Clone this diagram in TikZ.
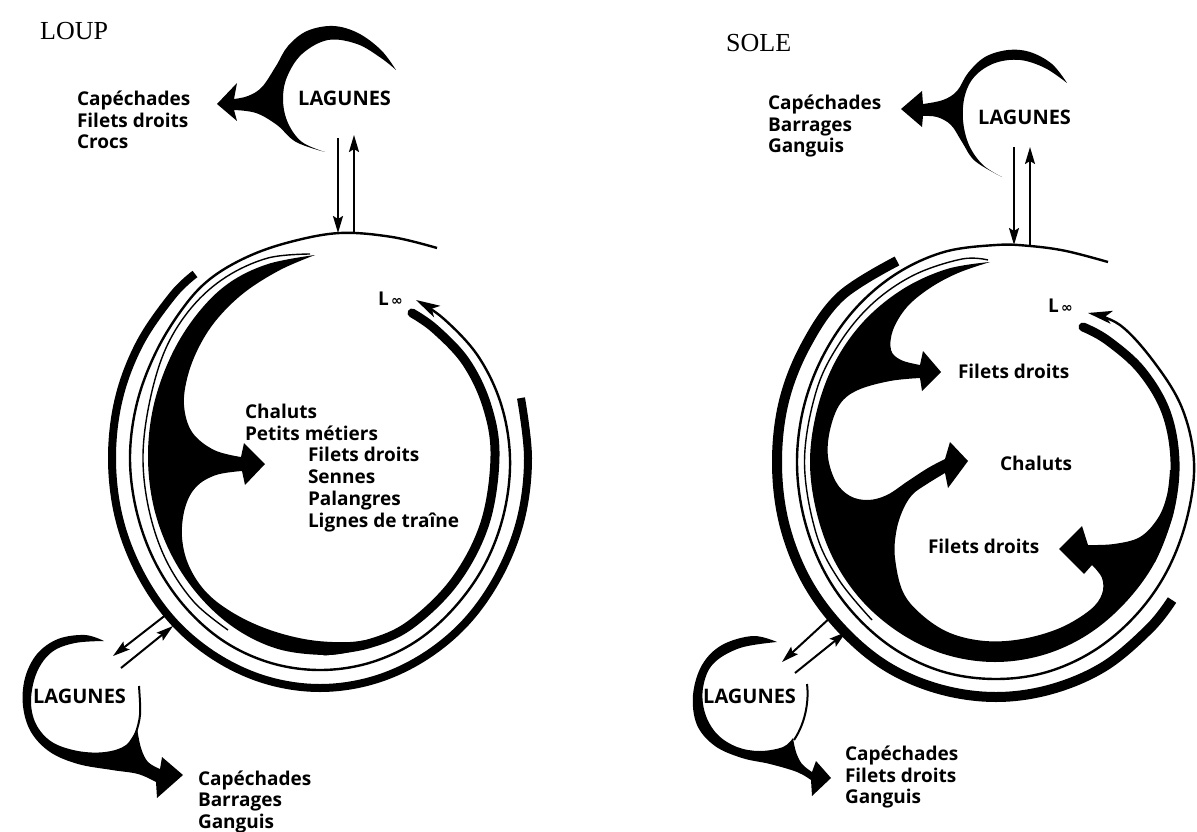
\documentclass[tikz,border=0pt]{standalone}
\usepackage{fontspec}
\setmainfont{Liberation Serif}
\newfontfamily\labfont{Open Sans}
\newfontfamily\symfont{DejaVu Sans}
\usetikzlibrary{arrows.meta}
\tikzset{
  lab/.style={font=\labfont\bfseries\fontsize{19}{23}\selectfont, anchor=base west, inner sep=0pt, outer sep=0pt},
  lagtext/.style={font=\labfont\bfseries\fontsize{20}{24}\selectfont, anchor=base west, inner sep=0pt},
  ttl/.style={font=\fontsize{26}{30}\selectfont, anchor=base west, inner sep=0pt},
  flow/.style={line width=2pt, -{Stealth[length=17pt,width=10pt,inset=3pt]}},
  growth/.style={line width=2.4pt, -{Stealth[length=24pt,width=13pt,inset=6pt]}},
  ringL/.style={line width=8pt, line cap=butt},
  ringR/.style={line width=10pt, line cap=butt},
  band/.style={line width=9pt, line cap=round},
  hairline/.style={line width=1.4pt},
  blob/.style={fill=black},
  paren/.style={line width=2pt},
  sm/.style={smooth, tension=0.6}
}
\begin{document}
\begin{tikzpicture}[x=1pt,y=-1pt]
\useasboundingbox (0,0) rectangle (1197,832);
\fill[white] (0,0) rectangle (1197,832);

% ================= LEFT : LOUP =================
\node[ttl] (loup) at (40,40) {LOUP};

% top lagune
\fill[blob] plot[sm] coordinates {(396,70) (381,50) (358,33) (333,26) (307,31) (288,46) (276,66) (262,87) (248,96) (234,99)}
  -- (237,83) -- (217,104) -- (237,121) -- (234,110)
  -- plot[sm] coordinates {(234,110) (256,113) (277,125) (296,142) (325,152)}
  -- plot[sm] coordinates {(325,152) (302,142) (288,123) (283,100) (287,77) (302,54) (328,40) (357,44) (381,58) (396,70)} -- cycle;
\node[lagtext] (lagLT) at (298,106) {LAGUNES};
\node[lab] (lt1) at (77,106) {Capéchades};
\node[lab] (lt2) at (77,128) {Filets droits};
\node[lab] (lt3) at (77,149) {Crocs};

% outer ring R1
\draw[ringL] plot[sm] coordinates {(195,274) (173,295) (140,343) (119,398) (112,458) (119,518) (140,573) (173,621) (216,657) (266,680) (320,688) (374,680) (424,657) (467,621) (500,573) (521,518) (528,458) (521,398)};
% growth ring R2
\draw[growth] plot[sm] coordinates {(437,248) (392,237) (340,233) (290,242) (247,257) (210,279) (183,308) (156,352) (137,403) (130,458) (137,513) (156,564) (186,608) (225,642) (271,663) (320,670) (369,663) (415,642) (454,608) (485,564) (504,513) (510,458) (501,404) (478,356) (444,319) (416,300)};
% exploitation band R3
\draw[band] plot[sm] coordinates {(412,313) (435,329) (466,362) (487,406) (495,456) (485,523) (455,581) (410,625) (368,644) (324,651)};
\fill[blob] plot[sm] coordinates {(380,643) (354,651) (324,655) (278,649) (236,629) (200,597) (172,556) (154,508) (148,456) (154,404) (172,354) (198,313) (229,283) (268,264) (315,255)}
  -- plot[sm] coordinates {(315,255) (280,270) (245,292) (218,318) (200,345) (188,375) (184,405) (192,432) (214,450) (241,457)}
  -- (244,443) -- (265,464) -- (245,485) -- (242,471)
  -- plot[sm] coordinates {(242,471) (216,475) (196,487) (185,508) (182,537) (189,566) (207,593) (235,614) (270,630) (310,640) (350,642) (380,637)} -- cycle;
\draw[hairline] plot[sm] coordinates {(310,254) (268,258) (226,277) (192,307) (166,348) (150,400) (143,456) (149,510) (166,560) (194,602) (228,630)};

\node[lab] (linfL) at (378,305) {L{\symfont\fontsize{14}{14}\selectfont\,∞}};
\node[lab] (c1) at (245,418) {Chaluts};
\node[lab] (c2) at (245,440) {Petits métiers};
\node[lab] (c3) at (308,461) {Filets droits};
\node[lab] (c4) at (308,483) {Sennes};
\node[lab] (c5) at (308,505) {Palangres};
\node[lab] (c6) at (308,527) {Lignes de traîne};

% exchanges top
\coordinate (lA1) at (338,138); \coordinate (lA2) at (338,233);
\coordinate (lB1) at (354,234); \coordinate (lB2) at (354,135);
\draw[flow] (lA1) -- (lA2);
\draw[flow] (lB1) -- (lB2);

% bottom lagune
\fill[blob] plot[sm] coordinates {(104,641) (85,635) (58,639) (37,654) (25,678) (23,706) (31,732) (50,752) (78,764) (112,770) (138,774) (156,782)}
  -- (157,798) -- (183,775) -- (162,757) -- (160,769)
  -- plot[sm] coordinates {(160,769) (148,762) (141,748) (137,728)}
  -- plot[sm] coordinates {(137,728) (126,745) (105,752) (78,751) (52,742) (36,724) (31,700) (37,672) (52,652) (75,643) (104,641)} -- cycle;
\draw[paren] (135,736) .. controls (141,716) .. (139,686);
\node[lagtext] (lagLB) at (33,703) {LAGUNES};
\coordinate (lC1) at (167,614); \coordinate (lC2) at (113,656);
\coordinate (lD1) at (121,668); \coordinate (lD2) at (173,626);
\draw[flow] (lC1) -- (lC2);
\draw[flow] (lD1) -- (lD2);
\node[lab] (lb1) at (198,785) {Capéchades};
\node[lab] (lb2) at (198,806) {Barrages};
\node[lab] (lb3) at (198,828) {Ganguis};

% ================= RIGHT : SOLE =================
\node[ttl] (sole) at (726,52) {SOLE};

\fill[blob] plot[sm] coordinates {(1067,83) (1052,64) (1030,52) (1008,50) (985,57) (968,73) (957,91) (943,100) (923,104)}
  -- (922,91) -- (901,109) -- (922,127) -- (923,116)
  -- plot[sm] coordinates {(923,116) (937,117) (951,125) (962,142) (975,161) (1002,177)}
  -- plot[sm] coordinates {(1002,177) (983,165) (969,145) (963,120) (965,95) (975,76) (995,63) (1020,60) (1045,68) (1067,83)} -- cycle;
\node[lagtext] (lagRT) at (978,125) {LAGUNES};
\node[lab] (rt1) at (768,110) {Capéchades};
\node[lab] (rt2) at (768,132) {Barrages};
\node[lab] (rt3) at (768,153) {Ganguis};

\draw[ringR] plot[sm] coordinates {(897,261) (841,296) (806,345) (784,401) (777,462) (784,523) (806,580) (841,628) (886,666) (939,689) (996,697) (1052,689) (1105,666) (1150,628) (1172,600)};
\draw[growth] plot[sm] coordinates {(1108,262) (1066,251) (1030,246) (996,245) (944,252) (896,274) (855,309) (824,354) (804,406) (797,462) (804,518) (824,571) (855,615) (896,650) (944,672) (996,679) (1047,672) (1095,650) (1136,615) (1167,571) (1187,518) (1194,462) (1182,408) (1154,362) (1120,325) (1088,313)};
\draw[band] plot[sm] coordinates {(1083,327) (1107,340) (1141,370) (1166,412) (1175,462) (1169,513) (1151,560)};
\fill[blob] plot[sm] coordinates {(1179,470) (1173,514) (1155,562) (1125,603) (1087,635) (1043,655) (995,662) (947,655) (903,635) (864,603) (835,562) (817,514) (810,462) (817,410) (835,362) (864,321) (903,289) (947,269) (990,262)}
  -- plot[sm] coordinates {(990,262) (958,273) (930,288) (907,307) (893,330) (891,350) (901,360) (920,365)}
  -- (923,351) -- (941,372) -- (922,391) -- (920,378)
  -- plot[sm] coordinates {(920,378) (890,381) (858,390) (840,404) (830,430) (828,457) (836,482) (850,496) (868,500) (887,495) (908,481) (928,468) (945,459)}
  -- (950,442) -- (968,461) -- (948,488) -- (945,473)
  -- plot[sm] coordinates {(945,473) (927,484) (912,495) (902,512) (896,533) (895,558) (903,592) (922,615) (950,633) (985,641) (1022,639) (1060,628) (1090,610) (1102,594) (1102,578) (1092,565)}
  -- (1084,574) -- (1059,549) -- (1082,526) -- (1088,545)
  -- plot[sm] coordinates {(1088,545) (1114,544) (1140,537) (1158,518) (1167,495) (1170,470)} -- cycle;
\draw[hairline] plot[sm] coordinates {(988,260) (962,259) (914,275) (872,304) (839,344) (816,392) (804.5,462) (816,533) (839,580) (872,620)};

\node[lab] (linfR) at (1048,312) {L{\symfont\fontsize{14}{14}\selectfont\,∞}};
\node[lab] (s1) at (958,378) {Filets droits};
\node[lab] (s2) at (1000,470) {Chaluts};
\node[lab] (s3) at (928,553) {Filets droits};

\coordinate (rA1) at (1014,147); \coordinate (rA2) at (1014,245);
\coordinate (rB1) at (1030,246); \coordinate (rB2) at (1030,147);
\draw[flow] (rA1) -- (rA2);
\draw[flow] (rB1) -- (rB2);

\fill[blob] plot[sm] coordinates {(777,642) (753,636) (722,645) (702,665) (693,695) (697,725) (715,746) (742,758) (770,764) (797,772) (811,780)}
  -- (812,796) -- (831,778) -- (816,761) -- (812,772)
  -- plot[sm] coordinates {(812,772) (802,764) (796,752) (793,738)}
  -- plot[sm] coordinates {(793,738) (783,747) (760,751) (737,747) (717,734) (705,713) (703,688) (713,664) (740,648) (777,642)} -- cycle;
\draw[paren] (794,740) .. controls (806,722) and (809,700) .. (807,684);
\node[lagtext] (lagRB) at (703,703) {LAGUNES};
\coordinate (rC1) at (832,616); \coordinate (rC2) at (782,662);
\coordinate (rD1) at (795,673); \coordinate (rD2) at (846,632);
\draw[flow] (rC1) -- (rC2);
\draw[flow] (rD1) -- (rD2);
\node[lab] (rb1) at (845,760) {Capéchades};
\node[lab] (rb2) at (845,782) {Filets droits};
\node[lab] (rb3) at (845,803) {Ganguis};
\end{tikzpicture}
\end{document}
